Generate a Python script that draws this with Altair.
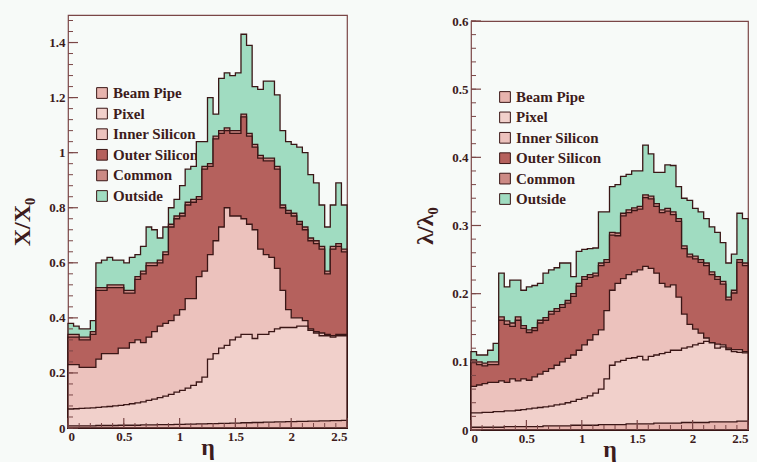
import altair as alt
import numpy as np
import pandas as pd

# Histogram binning in pseudorapidity
N_BINS = 50
BIN_WIDTH = 0.05

LAYERS = ["Beam Pipe", "Pixel", "Inner Silicon", "Outer Silicon", "Common", "Outside"]

# Cumulative (stacked) material budget per bin, in radiation lengths X/X0
X0_BEAM = [0.008, 0.008, 0.008, 0.008, 0.008, 0.009, 0.009, 0.009, 0.009, 0.010,
           0.010, 0.010, 0.010, 0.011, 0.011, 0.011, 0.012, 0.012, 0.012, 0.013,
           0.013, 0.014, 0.014, 0.015, 0.015, 0.016, 0.016, 0.017, 0.017, 0.018,
           0.018, 0.019, 0.019, 0.020, 0.020, 0.021, 0.021, 0.022, 0.022, 0.023,
           0.023, 0.024, 0.024, 0.025, 0.025, 0.026, 0.026, 0.027, 0.027, 0.028]
X0_PIXEL = [0.069, 0.070, 0.071, 0.072, 0.073, 0.075, 0.077, 0.078, 0.080, 0.082,
            0.085, 0.088, 0.091, 0.095, 0.100, 0.105, 0.110, 0.116, 0.122, 0.130,
            0.137, 0.145, 0.155, 0.167, 0.185, 0.25, 0.27, 0.29, 0.30, 0.32,
            0.33, 0.34, 0.34, 0.325, 0.34, 0.34, 0.35, 0.36, 0.365, 0.365,
            0.365, 0.37, 0.37, 0.355, 0.345, 0.335, 0.335, 0.33, 0.335, 0.335]
X0_INNER = [0.23, 0.23, 0.22, 0.22, 0.22, 0.25, 0.27, 0.27, 0.27, 0.29,
            0.29, 0.31, 0.32, 0.31, 0.33, 0.35, 0.37, 0.38, 0.39, 0.41,
            0.43, 0.47, 0.47, 0.55, 0.57, 0.63, 0.68, 0.73, 0.80, 0.77,
            0.77, 0.76, 0.74, 0.72, 0.65, 0.63, 0.62, 0.58, 0.50, 0.43,
            0.40, 0.40, 0.39, 0.36, 0.35, 0.345, 0.34, 0.335, 0.34, 0.34]
X0_OUTER = [0.33, 0.33, 0.32, 0.32, 0.34, 0.50, 0.50, 0.51, 0.51, 0.51,
            0.49, 0.49, 0.54, 0.56, 0.59, 0.59, 0.60, 0.63, 0.73, 0.76,
            0.77, 0.81, 0.82, 0.83, 0.94, 0.95, 1.05, 1.07, 1.08, 1.07,
            1.07, 1.13, 1.06, 1.02, 0.98, 0.97, 0.97, 0.94, 0.80, 0.78,
            0.77, 0.74, 0.72, 0.68, 0.67, 0.65, 0.56, 0.65, 0.66, 0.64]
X0_COMMON = [0.34, 0.34, 0.33, 0.33, 0.35, 0.51, 0.51, 0.52, 0.52, 0.52,
             0.50, 0.50, 0.55, 0.57, 0.60, 0.60, 0.61, 0.64, 0.74, 0.77,
             0.78, 0.82, 0.83, 0.84, 0.95, 0.96, 1.06, 1.08, 1.09, 1.08,
             1.08, 1.14, 1.07, 1.03, 0.99, 0.98, 0.98, 0.95, 0.81, 0.79,
             0.78, 0.75, 0.73, 0.69, 0.68, 0.66, 0.57, 0.66, 0.67, 0.65]
X0_OUTSIDE = [0.38, 0.37, 0.36, 0.36, 0.39, 0.60, 0.61, 0.62, 0.61, 0.61,
              0.60, 0.62, 0.63, 0.66, 0.73, 0.72, 0.69, 0.73, 0.80, 0.83,
              0.88, 0.94, 0.95, 1.04, 1.04, 1.20, 1.14, 1.27, 1.29, 1.28,
              1.29, 1.43, 1.39, 1.24, 1.23, 1.26, 1.26, 1.21, 1.08, 1.04,
              1.03, 1.02, 1.00, 0.92, 0.89, 0.81, 0.73, 0.81, 0.89, 0.81]

# Cumulative (stacked) material budget per bin, in interaction lengths lambda/lambda0
L0_BEAM = [0.004, 0.004, 0.004, 0.004, 0.004, 0.004, 0.005, 0.005, 0.005, 0.005,
           0.005, 0.005, 0.005, 0.006, 0.006, 0.006, 0.006, 0.006, 0.007, 0.007,
           0.007, 0.007, 0.007, 0.008, 0.008, 0.008, 0.008, 0.008, 0.009, 0.009,
           0.009, 0.009, 0.009, 0.010, 0.010, 0.010, 0.010, 0.010, 0.011, 0.011,
           0.011, 0.011, 0.011, 0.012, 0.012, 0.012, 0.012, 0.012, 0.013, 0.013]
L0_PIXEL = [0.025, 0.025, 0.026, 0.026, 0.027, 0.027, 0.028, 0.028, 0.029, 0.030,
            0.031, 0.032, 0.033, 0.034, 0.035, 0.037, 0.038, 0.040, 0.042, 0.045,
            0.047, 0.050, 0.054, 0.060, 0.075, 0.095, 0.100, 0.102, 0.105, 0.106,
            0.108, 0.103, 0.108, 0.110, 0.112, 0.114, 0.117, 0.117, 0.120, 0.122,
            0.125, 0.127, 0.130, 0.128, 0.120, 0.122, 0.118, 0.115, 0.114, 0.113]
L0_INNER = [0.064, 0.066, 0.068, 0.070, 0.070, 0.072, 0.070, 0.075, 0.072, 0.075,
            0.073, 0.078, 0.082, 0.086, 0.090, 0.095, 0.100, 0.105, 0.110, 0.117,
            0.125, 0.132, 0.140, 0.147, 0.175, 0.205, 0.215, 0.222, 0.228, 0.232,
            0.235, 0.240, 0.237, 0.230, 0.215, 0.210, 0.213, 0.195, 0.170, 0.155,
            0.148, 0.142, 0.135, 0.128, 0.126, 0.125, 0.120, 0.118, 0.118, 0.115]
L0_OUTER = [0.099, 0.096, 0.094, 0.096, 0.096, 0.161, 0.155, 0.152, 0.161, 0.149,
            0.143, 0.146, 0.157, 0.161, 0.170, 0.174, 0.180, 0.186, 0.196, 0.211,
            0.221, 0.224, 0.226, 0.241, 0.246, 0.286, 0.285, 0.314, 0.319, 0.322,
            0.324, 0.341, 0.339, 0.328, 0.319, 0.321, 0.316, 0.306, 0.266, 0.254,
            0.251, 0.246, 0.241, 0.228, 0.221, 0.214, 0.191, 0.201, 0.246, 0.241]
L0_COMMON = [0.103, 0.100, 0.098, 0.100, 0.100, 0.166, 0.160, 0.157, 0.166, 0.153,
             0.147, 0.150, 0.161, 0.165, 0.174, 0.178, 0.184, 0.190, 0.200, 0.215,
             0.225, 0.228, 0.230, 0.245, 0.250, 0.290, 0.289, 0.318, 0.323, 0.326,
             0.328, 0.345, 0.343, 0.332, 0.323, 0.325, 0.320, 0.310, 0.270, 0.258,
             0.255, 0.250, 0.245, 0.232, 0.225, 0.218, 0.195, 0.205, 0.250, 0.245]
L0_OUTSIDE = [0.115, 0.110, 0.110, 0.117, 0.127, 0.230, 0.210, 0.220, 0.220, 0.205,
              0.210, 0.212, 0.215, 0.230, 0.235, 0.238, 0.245, 0.245, 0.225, 0.262,
              0.265, 0.266, 0.267, 0.320, 0.320, 0.357, 0.360, 0.372, 0.375, 0.380,
              0.380, 0.418, 0.405, 0.378, 0.378, 0.389, 0.388, 0.357, 0.340, 0.337,
              0.325, 0.320, 0.310, 0.298, 0.290, 0.275, 0.245, 0.258, 0.318, 0.310]

# Styling
FILLS = {
    "Beam Pipe": "#e7b4ae",
    "Pixel": "#f1d0cb",
    "Inner Silicon": "#ecc2bd",
    "Outer Silicon": "#b5615d",
    "Common": "#cc8a85",
    "Outside": "#a0dcc1",
}
OUTLINE = "#3a1616"
FRAME = "#7a4646"
TEXT = "#3d1c1c"
BG = "#f7faf8"
SERIF = "Liberation Serif"
X_MAJOR = [0, 0.5, 1, 1.5, 2, 2.5]


def stack_table(series):
    """Long table of step-histogram vertices, one row per bin edge."""
    rows = []
    for name, tops in zip(LAYERS, series):
        for i, v in enumerate(tops):
            rows.append({"layer": name, "eta": round(i * BIN_WIDTH, 3), "top": v})
        rows.append({"layer": name, "eta": round(N_BINS * BIN_WIDTH, 3), "top": tops[-1]})
    return pd.DataFrame(rows)


def panel(series, ymax, yvalues, yminor, ytitle, width, height, leg_x, leg_y0, leg_dy):
    df = stack_table(series)
    xscale = alt.Scale(domain=[0, 2.5], nice=False, zero=False)
    yscale = alt.Scale(domain=[0, ymax], nice=False, zero=True)

    # One axis definition shared by every layer so the merged axis keeps its settings
    common = dict(titleFont=SERIF, titleFontWeight="bold", titleColor=TEXT,
                  labelFont=SERIF, labelFontSize=13, labelFontWeight="bold",
                  labelColor=TEXT, ticks=False, domain=False, grid=False)
    xaxis = alt.Axis(values=X_MAJOR, format="~g", title="η", titleFontSize=24,
                     titlePadding=-8, labelPadding=2, **common)
    yaxis = alt.Axis(values=yvalues, format="~g", title=ytitle, titleFontSize=24,
                     titlePadding=14, labelPadding=3, **common)
    X = lambda f: alt.X(f, scale=xscale, axis=xaxis)
    Y = lambda f: alt.Y(f, scale=yscale, axis=yaxis)

    # Legend entries placed in data units of the panel, under the histograms
    leg = pd.DataFrame({"layer": LAYERS})
    leg["ly"] = (height - (leg_y0 + leg.index * leg_dy)) / height * ymax
    symbols = alt.Chart(leg).mark_square(size=115, opacity=1, stroke=OUTLINE, strokeWidth=1).encode(
        x=alt.value(leg_x),
        y=Y("ly:Q"),
        fill=alt.Fill("layer:N", scale=alt.Scale(domain=LAYERS, range=[FILLS[k] for k in LAYERS]), legend=None),
    )
    labels = alt.Chart(leg).mark_text(align="left", baseline="middle", font=SERIF, fontSize=15,
                                      fontWeight="bold", color=TEXT).encode(
        x=alt.value(leg_x + 11),
        y=Y("ly:Q"),
        text="layer:N",
    )

    # Filled step histograms, largest cumulative sum drawn first
    areas = [
        alt.Chart(df).transform_filter(alt.datum.layer == name)
        .mark_area(interpolate="step-after", fill=FILLS[name], stroke=OUTLINE,
                   strokeWidth=1.3, opacity=1)
        .encode(x=X("eta:Q"), y=Y("top:Q"))
        for name in reversed(LAYERS)
    ]

    # Inward-pointing ticks on the left and bottom edges
    ymajor = pd.DataFrame({"v": yvalues})
    yminor_df = pd.DataFrame({"v": yminor})
    xmajor = pd.DataFrame({"v": X_MAJOR})
    xminor = pd.DataFrame({"v": np.round(np.arange(0, 2.5001, 0.1), 3)})
    tick_y_major = alt.Chart(ymajor).mark_rule(color=FRAME, strokeWidth=1.2).encode(
        y=Y("v:Q"), x=alt.value(0), x2=alt.value(10))
    tick_y_minor = alt.Chart(yminor_df).mark_rule(color=FRAME, strokeWidth=1).encode(
        y=Y("v:Q"), x=alt.value(0), x2=alt.value(5))
    tick_x_major = alt.Chart(xmajor).mark_rule(color=FRAME, strokeWidth=1.2).encode(
        x=X("v:Q"), y=alt.value(height), y2=alt.value(height - 10))
    tick_x_minor = alt.Chart(xminor).mark_rule(color=FRAME, strokeWidth=1).encode(
        x=X("v:Q"), y=alt.value(height), y2=alt.value(height - 5))

    return alt.layer(symbols, labels, *areas, tick_y_major, tick_y_minor,
                     tick_x_major, tick_x_minor).properties(width=width, height=height)


left = panel(
    [X0_BEAM, X0_PIXEL, X0_INNER, X0_OUTER, X0_COMMON, X0_OUTSIDE],
    1.5, [0, 0.2, 0.4, 0.6, 0.8, 1, 1.2, 1.4],
    list(np.round(np.arange(0, 1.5, 0.04), 3)),
    "X/X₀", 279, 413, 34, 78, 20.6,
)
right = panel(
    [L0_BEAM, L0_PIXEL, L0_INNER, L0_OUTER, L0_COMMON, L0_OUTSIDE],
    0.6, [0, 0.1, 0.2, 0.3, 0.4, 0.5, 0.6],
    list(np.round(np.arange(0, 0.601, 0.02), 3)),
    "λ/λ₀", 277, 409, 34, 76, 20.4,
)

# Invisible strip that lowers the right-hand panel a little
spacer = (
    alt.Chart(pd.DataFrame({"a": [0]}))
    .mark_point(opacity=0, size=1)
    .encode(x=alt.value(1), y=alt.value(0.5))
    .properties(width=277, height=1, view=alt.ViewBackground(stroke="transparent"))
)

chart = (
    alt.hconcat(left, alt.vconcat(spacer, right, spacing=-3), spacing=62)
    .properties(padding={"left": 10, "top": 14, "right": 5, "bottom": 0})
    .configure(background=BG)
    .configure_view(stroke=FRAME, strokeWidth=1.2)
)

chart.save("out.html", embed_options={"renderer": "svg", "actions": False})
